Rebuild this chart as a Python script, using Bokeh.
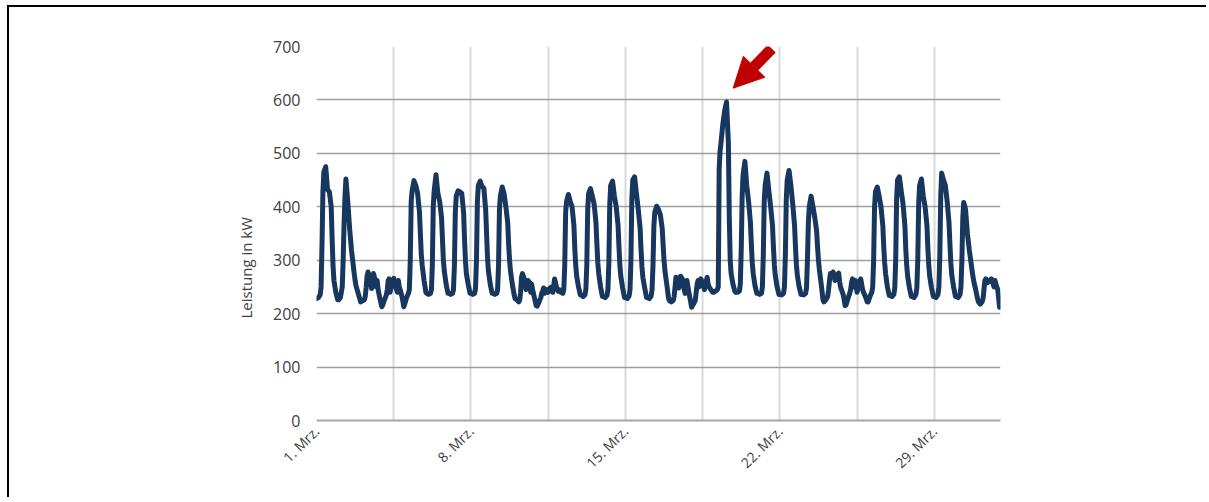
import numpy as np
from bokeh.plotting import figure
from bokeh.layouts import column
from bokeh.models import (FixedTicker, Range1d, Arrow, NormalHead, Title,
                          ColumnDataSource)
from bokeh.embed import file_html
from bokeh.resources import INLINE

# ---------------- data ----------------
# sample hours within each day
hours = [0, 2, 4, 5, 6, 7, 8, 10, 12, 14, 16, 17, 18, 19, 21, 23]

# power in kW, one list per day of March
mar01 = [228, 230, 235, 250, 330, 430, 465, 475, 432, 428, 400, 340, 290, 262, 240, 226]
mar02 = [226, 230, 250, 300, 370, 420, 452, 410, 360, 320, 290, 275, 262, 252, 240, 228]
mar03 = [222, 224, 226, 232, 248, 270, 278, 268, 247, 275, 262, 250, 262, 245, 228, 213]
mar04 = [216, 226, 235, 245, 262, 265, 240, 258, 266, 250, 240, 262, 250, 245, 232, 213]
mar05 = [218, 230, 238, 245, 300, 410, 430, 449, 440, 425, 390, 350, 310, 290, 262, 240]
mar06 = [238, 236, 238, 245, 290, 400, 430, 460, 425, 410, 380, 340, 300, 280, 255, 238]
mar07 = [238, 236, 238, 245, 290, 390, 420, 430, 428, 425, 390, 340, 300, 275, 255, 238]
mar08 = [238, 236, 238, 248, 300, 410, 440, 448, 438, 435, 395, 350, 305, 280, 255, 238]
mar09 = [238, 236, 238, 245, 290, 395, 420, 437, 425, 400, 370, 330, 300, 280, 255, 235]
mar10 = [228, 226, 222, 225, 240, 268, 275, 265, 245, 262, 258, 240, 255, 245, 230, 215]
mar11 = [214, 222, 230, 238, 242, 248, 238, 245, 240, 248, 250, 240, 252, 265, 250, 242]
mar12 = [245, 240, 238, 245, 290, 390, 410, 423, 410, 400, 365, 320, 290, 270, 250, 235]
mar13 = [235, 232, 235, 245, 290, 395, 425, 434, 420, 405, 370, 330, 295, 275, 250, 232]
mar14 = [232, 230, 234, 245, 295, 405, 440, 448, 420, 400, 365, 325, 290, 270, 248, 230]
mar15 = [230, 228, 233, 245, 300, 415, 450, 456, 425, 395, 360, 320, 288, 268, 248, 230]
mar16 = [230, 228, 233, 245, 290, 365, 390, 401, 395, 385, 360, 330, 300, 280, 255, 228]
mar17 = [224, 222, 225, 232, 250, 268, 262, 248, 270, 265, 245, 238, 255, 262, 240, 222]
mar18 = [212, 218, 225, 240, 255, 262, 250, 265, 258, 245, 262, 268, 255, 250, 245, 240]
mar19 = [240, 242, 245, 250, 470, 505, 520, 555, 580, 596, 520, 380, 300, 275, 255, 242]
mar20 = [240, 240, 242, 255, 320, 420, 460, 485, 440, 410, 370, 330, 295, 275, 252, 238]
mar21 = [238, 236, 238, 250, 310, 410, 440, 463, 430, 400, 365, 325, 292, 272, 250, 236]
mar22 = [236, 235, 238, 250, 310, 415, 450, 468, 440, 405, 365, 325, 292, 272, 250, 236]
mar23 = [236, 235, 238, 248, 300, 370, 400, 420, 400, 380, 355, 325, 300, 282, 255, 225]
mar24 = [222, 226, 232, 245, 262, 275, 270, 278, 262, 272, 276, 260, 250, 245, 235, 215]
mar25 = [216, 228, 238, 245, 258, 265, 250, 262, 240, 258, 265, 255, 245, 240, 232, 222]
mar26 = [222, 232, 240, 250, 300, 400, 428, 437, 420, 400, 365, 325, 295, 275, 250, 234]
mar27 = [234, 232, 236, 248, 300, 415, 450, 456, 430, 405, 365, 320, 290, 270, 248, 232]
mar28 = [232, 230, 236, 248, 300, 405, 440, 452, 420, 400, 365, 322, 290, 270, 248, 232]
mar29 = [232, 230, 236, 250, 310, 420, 463, 450, 440, 410, 370, 330, 295, 272, 250, 232]
mar30 = [232, 230, 236, 250, 300, 380, 408, 395, 350, 320, 295, 282, 270, 260, 245, 228]
mar31 = [222, 218, 222, 228, 245, 262, 265, 258, 262, 265, 255, 250, 262, 255, 245, 212]

days = [mar01, mar02, mar03, mar04, mar05, mar06, mar07, mar08, mar09, mar10,
        mar11, mar12, mar13, mar14, mar15, mar16, mar17, mar18, mar19, mar20,
        mar21, mar22, mar23, mar24, mar25, mar26, mar27, mar28, mar29, mar30, mar31]

tick_days = [0, 7, 14, 21, 28]
tick_labels = ["1. Mrz.", "8. Mrz.", "15. Mrz.", "22. Mrz.", "29. Mrz."]
y_ticks = [0, 100, 200, 300, 400, 500, 600, 700]
y_title = "Leistung in kW"

# ---------------- build ----------------
x = []
y = []
for d, vals in enumerate(days):
    for h, v in zip(hours, vals):
        x.append(d + h / 24.0)
        y.append(v)
src = ColumnDataSource(dict(x=x, y=y))

FONT = "Open Sans"
TXT = "#404040"

# the page frame (left/top black rule) sits at 7px / 5px, 2px thick
OFF_X, OFF_Y = 9, 7

p = figure(frame_width=684, frame_height=374, output_backend="svg",
           toolbar_location=None,
           x_range=Range1d(0, 31), y_range=Range1d(0, 700),
           min_border_left=316 - OFF_X, min_border_right=206,
           min_border_top=46 - OFF_Y, min_border_bottom=77)
p.outline_line_color = None
p.background_fill_color = "white"
p.border_fill_color = "white"

p.line("x", "y", source=src, line_color="#17375E", line_width=5,
       line_join="round", line_cap="round")

# axes
p.xaxis.ticker = FixedTicker(ticks=tick_days)
p.xaxis.major_label_overrides = {t: l for t, l in zip(tick_days, tick_labels)}
p.xaxis.major_label_orientation = np.pi / 4
p.xaxis.axis_line_color = "#A6A6A6"
p.xaxis.axis_line_width = 2
p.xaxis.major_tick_line_color = None
p.xaxis.minor_tick_line_color = None
p.xaxis.major_tick_out = 0
p.xaxis.major_label_text_font = FONT
p.xaxis.major_label_text_font_size = "14px"
p.xaxis.major_label_text_color = TXT
p.xaxis.major_label_standoff = 8

p.yaxis.ticker = FixedTicker(ticks=y_ticks)
p.yaxis.axis_line_color = None
p.yaxis.major_tick_line_color = None
p.yaxis.minor_tick_line_color = None
p.yaxis.major_tick_out = 0
p.yaxis.major_tick_in = 0
p.yaxis.major_label_text_font = FONT
p.yaxis.major_label_text_font_size = "16px"
p.yaxis.major_label_text_color = TXT
p.yaxis.major_label_standoff = 16

# y title, starting a bit above the frame bottom like the original
p.add_layout(Title(text=y_title, align="left", offset=102, standoff=30,
                   text_font=FONT, text_font_size="15px",
                   text_font_style="normal", text_color=TXT), "left")

# grids
p.ygrid.ticker = FixedTicker(ticks=y_ticks)
p.ygrid.grid_line_color = "#A0A0A0"
p.ygrid.grid_line_width = 1.6
p.xgrid.ticker = FixedTicker(ticks=[i * 3.5 for i in range(9)])
p.xgrid.grid_line_color = "#D9D9D9"
p.xgrid.grid_line_width = 2

# arrow pointing at the maximum
imax = int(np.argmax(y))
px, py = x[imax], y[imax]
arrow = Arrow(end=NormalHead(size=30, fill_color="#C00000", line_color="#C00000"),
              x_start=px + 2.05, y_start=py + 100, x_end=px + 0.3, y_end=py + 26,
              line_color="#C00000", line_width=11)
p.add_layout(arrow)

root = column(p, styles={"border-left": "2px solid #000",
                         "border-top": "2px solid #000",
                         "border-right": "0", "border-bottom": "0",
                         "margin-left": "7px", "margin-top": "5px",
                         "overflow": "hidden",
                         "background-color": "white"})

open("out.html", "w").write(file_html(root, INLINE))
